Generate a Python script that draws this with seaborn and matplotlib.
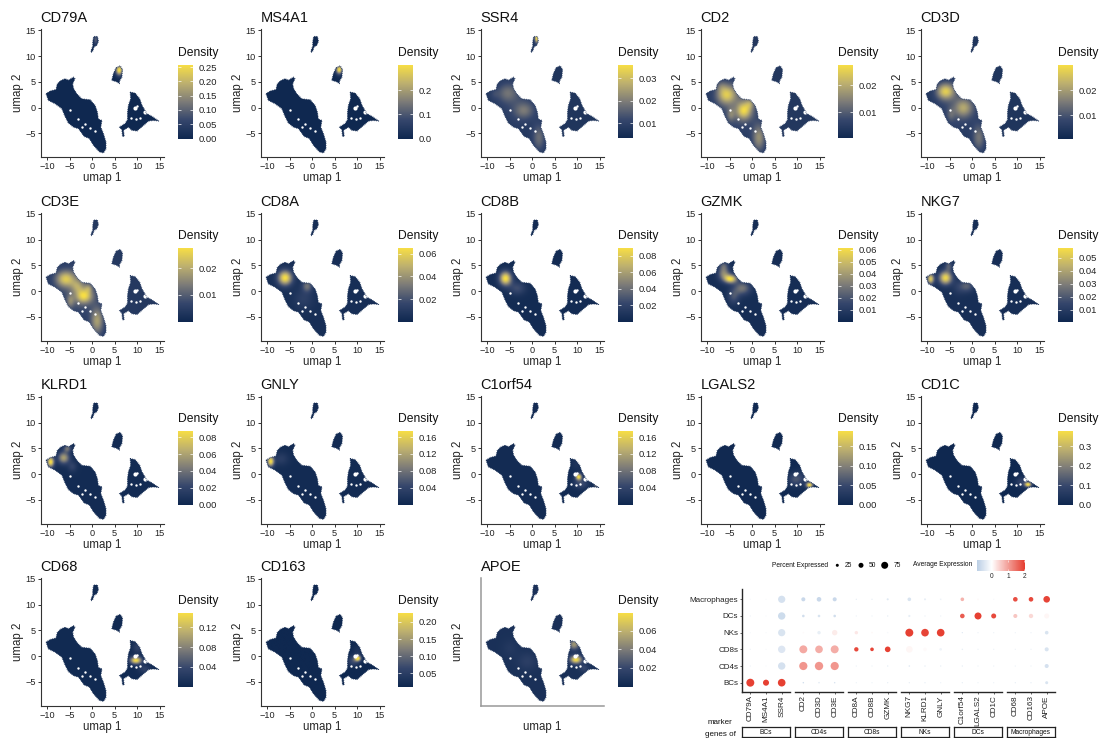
import numpy as np
import pandas as pd
import matplotlib
matplotlib.use("Agg")
import matplotlib.pyplot as plt
from matplotlib.cm import ScalarMappable
from matplotlib.colors import LinearSegmentedColormap, Normalize
from matplotlib.patches import PathPatch
from matplotlib.path import Path
import seaborn as sns

W, H = 1101, 738

# outlines of the umap clusters
body = [(-10.2, 2.7), (-9.3, 3.2), (-8.0, 3.5), (-7.7, 4.6), (-7.0, 5.2), (-6.0, 5.6), (-5.25, 5.3), (-4.1, 5.9),
        (-3.8, 5.6), (-4.3, 4.6), (-4.1, 3.7), (-3.4, 2.7), (-2.3, 1.7), (-0.4, 1.5), (0.7, 0.4), (1.2, -0.9),
        (1.4, -2.2), (2.2, -2.5), (1.95, -3.8), (2.55, -5.1), (3.1, -6.7), (3.1, -8.0), (2.55, -8.8), (1.65, -8.6),
        (0.3, -7.3), (-0.6, -6.0), (-1.75, -5.6), (-3.0, -4.1), (-4.1, -3.8), (-5.25, -3.0), (-6.0, -1.7),
        (-6.7, -0.2), (-8.2, 0.75), (-9.7, 1.4)]
top_island = [(0.47, 13.8), (1.2, 13.8), (1.43, 12.9), (1.06, 12.1), (0.47, 11.8), (0.17, 11.0), (-0.2, 10.7),
              (-0.2, 11.1), (0.17, 11.9), (0.17, 12.7), (0.32, 13.6)]
mid_island = [(5.37, 7.75), (6.26, 8.1), (6.78, 7.4), (6.63, 5.9), (6.1, 5.15), (6.1, 4.65), (5.5, 5.0), (4.4, 5.3),
              (4.77, 6.6)]
right_cluster = [(8.5, 3.0), (9.6, 2.8), (10.6, 1.7), (11.1, 0.44), (12.2, -1.2), (13.3, -1.7), (14.8, -2.6),
                 (13.7, -2.5), (12.6, -2.6), (11.45, -3.45), (10.0, -4.55), (8.86, -4.4), (8.1, -3.8), (7.0, -4.4),
                 (7.15, -5.6), (6.8, -5.6), (6.63, -4.3), (6.1, -3.8), (7.37, -3.1), (7.9, -2.35), (7.9, -0.86),
                 (8.1, 0.44), (8.6, 1.7)]
big_holes_x = [9.45, 11.8]
big_holes_y = [0.0, -0.9]
small_holes_x = [10.1, 8.6, 9.8, 10.7, -4.9, -1.5, -0.4, 0.7, 1.8, -3.2, -2.3]
small_holes_y = [0.25, -2.0, -2.2, -2.0, -0.4, -3.1, -3.9, -4.5, -2.0, -2.3, -3.8]

genes = ["CD79A", "MS4A1", "SSR4", "CD2", "CD3D",
         "CD3E", "CD8A", "CD8B", "GZMK", "NKG7",
         "KLRD1", "GNLY", "C1orf54", "LGALS2", "CD1C",
         "CD68", "CD163", "APOE"]

# colour bar limits and tick labels
cbar_range = [(0, .257), (0, .306), (.0033, .0358), (.0004, .0274), (.0008, .03),
              (0, .0277), (.0004, .065), (0, .0897), (0, .0615), (.0008, .0577),
              (0, .0875), (0, .1745), (0, .1745), (0, .19), (0, .38),
              (0, .149), (.012, .226), (0, .079)]
cbar_ticks = [["0.00", "0.05", "0.10", "0.15", "0.20", "0.25"], ["0.0", "0.1", "0.2"], ["0.01", "0.02", "0.03"],
              ["0.01", "0.02"], ["0.01", "0.02"],
              ["0.01", "0.02"], ["0.02", "0.04", "0.06"], ["0.02", "0.04", "0.06", "0.08"],
              ["0.01", "0.02", "0.03", "0.04", "0.05", "0.06"], ["0.01", "0.02", "0.03", "0.04", "0.05"],
              ["0.00", "0.02", "0.04", "0.06", "0.08"], ["0.04", "0.08", "0.12", "0.16"],
              ["0.04", "0.08", "0.12", "0.16"], ["0.00", "0.05", "0.10", "0.15"], ["0.0", "0.1", "0.2", "0.3"],
              ["0.04", "0.08", "0.12"], ["0.05", "0.10", "0.15", "0.20"], ["0.02", "0.04", "0.06"]]

# background density and the visible peaks: x, y, height, spread x, spread y
base = [.002, .002, .007, .004, .004,
        .004, .004, .003, .003, .004,
        .003, .005, .005, .003, .002,
        .003, .012, .006]
peaks = [
    [(5.9, 7.1, .255, .55, .7), (0.7, 13.0, .09, .35, .7)],
    [(5.9, 7.2, .30, .5, .6)],
    [(0.9, 13.25, .028, .3, .6), (-3.0, 0.5, .004, 3.5, 3.5), (-5.6, 2.7, .009, 1.6, 1.3), (-1.9, -0.7, .009, 1.5, 1.1),
     (1.4, -6.0, .010, 1.0, 1.8), (-8.5, 2.5, .003, .7, .7)],
    [(-3.0, 0.0, .005, 3.5, 3.5), (-5.8, 2.4, .018, 1.5, 1.3), (-1.9, -0.7, .018, 1.2, 1.2), (1.4, -6.0, .012, 1.0, 1.8),
     (-7.0, 4.0, .004, .8, .8), (-4.8, -1.5, .007, .6, .9), (-0.6, 0.6, .007, .7, .7)],
    [(-3.0, 0.0, .005, 3.5, 3.5), (-6.0, 3.0, .021, 1.4, 1.1), (-2.0, -0.2, .013, 1.4, 1.2), (1.4, -6.0, .010, 1.0, 1.8),
     (-4.8, -1.5, .005, .6, .9)],
    [(-3.0, 0.0, .005, 3.5, 3.5), (-6.0, 2.4, .018, 1.5, 1.1), (-1.9, -0.9, .019, 1.3, 1.0), (-4.9, -1.9, .008, .6, .9),
     (1.0, -5.8, .014, 1.0, 1.8), (-3.4, 1.0, .009, 1.0, .9), (-0.9, 0.6, .007, .6, .6)],
    [(-6.1, 2.6, .061, 1.1, 1.0), (-1.2, 1.0, .025, .8, .8), (-2.0, -1.5, .009, 1.5, 1.4)],
    [(-6.0, 2.5, .087, .95, .95), (-3.4, 0.6, .022, 1.3, .9)],
    [(-4.9, 2.4, .056, 1.0, .6), (-6.4, 3.5, .030, .9, .9), (-2.3, 0.6, .026, 1.3, .9), (-4.2, -1.0, .016, .9, 1.0),
     (-6.4, 5.0, .016, .7, .6)],
    [(-9.3, 2.4, .047, .55, .7), (-6.0, 2.6, .051, 1.0, .9), (-5.3, 4.9, .017, .6, .7), (-1.2, 1.0, .017, 1.0, .8),
     (-3.0, 0.8, .008, 1.0, 1.0)],
    [(-9.3, 2.4, .085, .55, .7), (-6.4, 3.2, .055, .9, .8), (-5.6, 5.0, .036, .6, .5), (-4.5, 1.5, .016, .7, .7)],
    [(-9.3, 2.5, .165, .55, .7), (-7.0, 3.0, .026, 1.2, .9)],
    [(10.2, -0.5, .165, .5, .45), (14.0, -2.2, .10, .25, .2), (10.7, -1.8, .045, 1.1, .7), (9.7, 2.0, .012, .8, .8)],
    [(12.6, -2.1, .185, .55, .4), (9.2, -1.0, .047, 1.0, .9), (10.7, -0.8, .03, 1.0, 1.0)],
    [(12.3, -2.0, .37, .55, .35), (10.8, -1.5, .08, .9, .7)],
    [(9.6, -0.8, .145, .9, .5), (10.0, 1.7, .028, .8, .8), (11.5, -2.5, .028, .9, .6)],
    [(10.0, -0.4, .21, .5, .4), (9.0, -0.9, .06, .9, .7), (10.0, 1.0, .02, .8, .8)],
    [(9.6, -0.65, .073, .9, .55), (9.2, 2.3, .044, .8, .7), (11.4, -2.3, .014, .7, .5), (-1.2, -1.0, .009, 1.5, 1.2),
     (-5.0, 1.5, .005, 1.2, 1.2)],
]

# dot plot
cell_types = ["Macrophages", "DCs", "NKs", "CD8s", "CD4s", "BCs"]
groups = ["BCs", "CD4s", "CD8s", "NKs", "DCs", "Macrophages"]
markers = [["CD79A", "MS4A1", "SSR4"], ["CD2", "CD3D", "CD3E"], ["CD8A", "CD8B", "GZMK"],
           ["NKG7", "KLRD1", "GNLY"], ["C1orf54", "LGALS2", "CD1C"], ["CD68", "CD163", "APOE"]]
pct_expressed = [
    [3, 3, 78, 38, 45, 38, 4, 4, 13, 33, 13, 8, 33, 10, 4, 45, 45, 70],
    [3, 3, 80, 20, 20, 20, 4, 4, 5, 15, 5, 4, 45, 75, 50, 38, 42, 50],
    [3, 3, 78, 6, 30, 55, 30, 6, 6, 87, 83, 83, 4, 4, 4, 4, 4, 33],
    [3, 3, 80, 87, 83, 87, 42, 33, 58, 70, 30, 20, 5, 4, 4, 4, 4, 38],
    [3, 3, 80, 90, 92, 90, 4, 4, 5, 7, 5, 4, 5, 4, 4, 4, 4, 38],
    [87, 63, 83, 6, 6, 6, 4, 4, 4, 4, 4, 4, 4, 4, 4, 4, 4, 25],
]
avg_expression = [
    [-.1, -.1, -.55, -.7, -.7, -.7, -.3, -.3, -.4, -.5, -.3, -.2, .8, .05, -.1, 1.85, 1.9, 1.95],
    [-.2, -.1, -.65, -.6, -.5, -.6, -.2, -.2, -.3, -.3, -.2, -.2, 1.7, 2.0, 1.9, .6, .4, .1],
    [-.1, -.1, -.5, .05, -.3, .2, .25, .1, -.1, 2.0, 1.95, 2.0, -.4, -.2, -.2, -.2, -.2, -.5],
    [-.2, -.1, -.45, .9, .85, .85, 1.9, 1.95, 2.0, .1, .05, -.2, -.3, -.2, -.2, -.2, -.2, -.5],
    [-.2, -.1, -.55, 1.1, 1.1, 1.1, -.2, -.2, -.3, -.4, -.3, -.3, -.3, -.2, -.2, -.2, -.2, -.55],
    [2.0, 2.0, 2.0, -.6, -.4, -.5, -.2, -.2, -.3, -.3, -.3, -.2, -.3, -.2, -.2, -.3, -.3, -.5],
]
legend_pct = [25, 50, 75]

sns.set_theme(style="ticks")
plt.rcParams["font.family"] = ["Liberation Sans", "DejaVu Sans"]
plt.rcParams["text.color"] = "#111111"

fig = plt.figure(figsize=(W / 100, H / 100), dpi=100)
density_cmap = LinearSegmentedColormap.from_list(
    "density", ["#0f2850", "#35466c", "#7c7b78", "#bcaf6f", "#f7de45"])


def px_axes(left, top, width, height):
    return fig.add_axes([left / W, 1 - (top + height) / H, width / W, height / H])


def dot_area(pct):
    return (0.72 * (1 + 0.08 * pct)) ** 2


# one clip path for all the clusters
shapes = [body, top_island, mid_island, right_cluster]
verts, codes = [], []
for shape in shapes:
    verts += shape + [shape[0]]
    codes += [Path.MOVETO] + [Path.LINETO] * (len(shape) - 1) + [Path.CLOSEPOLY]
umap_path = Path(verts, codes)

gx, gy = np.meshgrid(np.linspace(-11.4, 16, 330), np.linspace(-9.66, 15.2, 300))
row_tops = [29.3, 212.8, 395.8, 577.8]
cbar_tops = [65, 248, 431, 613]

for i, gene in enumerate(genes):
    row, col = divmod(i, 5)
    left = 40.7 + 220 * col
    ax = px_axes(left, row_tops[row], 123.3, 128)
    density = np.full(gx.shape, base[i], dtype=float)
    for px, py, height, sx, sy in peaks[i]:
        density += height * np.exp(-((gx - px) / sx) ** 2 / 2 - ((gy - py) / sy) ** 2 / 2)
    vmin, vmax = cbar_range[i]
    im = ax.imshow(density, extent=(-11.4, 16, -9.66, 15.2), origin="lower", aspect="auto",
                   cmap=density_cmap, vmin=vmin, vmax=vmax, interpolation="bilinear")
    patch = PathPatch(umap_path, facecolor="none", edgecolor="none", transform=ax.transData)
    ax.add_patch(patch)
    im.set_clip_path(patch)
    # fine dotted stroke in the background colour roughens the cluster edges
    edge_color = density_cmap((base[i] - vmin) / (vmax - vmin))
    for shape in shapes:
        ax.plot(*zip(*(shape + shape[:1])), color=edge_color, lw=0.8, ls=(0, (0.6, 1.0)))
    sns.scatterplot(x=big_holes_x, y=big_holes_y, color="white", s=9, linewidth=0, ax=ax, legend=False)
    sns.scatterplot(x=small_holes_x, y=small_holes_y, color="white", s=3, linewidth=0, ax=ax, legend=False)
    ax.set_xlim(-11.4, 16)
    ax.set_ylim(-9.66, 15.2)
    ax.set_title(gene, loc="left", fontsize=10.5, pad=5)
    ax.set_xlabel("umap 1", fontsize=8.3, va="center")
    ax.set_ylabel("umap 2", fontsize=8.3, va="center")
    ax.xaxis.set_label_coords(0.5, -0.165)
    ax.yaxis.set_label_coords(-0.184, 0.5)
    sns.despine(ax=ax)
    if gene == "APOE":
        ax.set_xticks([])
        ax.set_yticks([])
        ax.spines[["left", "bottom"]].set_color("#999999")
        ax.spines[["left", "bottom"]].set_linewidth(1.1)
    else:
        ax.set_xticks([-10, -5, 0, 5, 10, 15])
        ax.set_yticks([-5, 0, 5, 10, 15])
        ax.tick_params(labelsize=6.6, length=2.2, width=0.7, pad=1.5, color="#333333", labelcolor="#222222")
        ax.spines[["left", "bottom"]].set_color("#333333")
        ax.spines[["left", "bottom"]].set_linewidth(0.8)

    # colour bar with ggplot style ticks
    cax = px_axes(178 + 220 * col, cbar_tops[row], 15, 73.5)
    cb = fig.colorbar(im, cax=cax)
    values = [float(t) for t in cbar_ticks[i]]
    cb.set_ticks(values, labels=cbar_ticks[i])
    cb.outline.set_visible(False)
    cax.tick_params(length=0, labelsize=6.8, pad=4.2, labelcolor="#222222")
    cax.hlines(values, 0, 0.2, color="white", lw=0.5)
    cax.hlines(values, 0.8, 1, color="white", lw=0.5)
    fig.text((178 + 220 * col) / W, 1 - (cbar_tops[row] - 12) / H, "Density", fontsize=8.7, va="center")

# dot plot, one facet per marker group
long_rows = []
flat_markers = [m for group in markers for m in group]
for r, cell in enumerate(cell_types):
    for c, gene in enumerate(flat_markers):
        long_rows.append({"cell": cell, "gene": gene, "pct": pct_expressed[r][c], "avg": avg_expression[r][c]})
dots = pd.DataFrame(long_rows)
size_lookup = {p: dot_area(p) for p in dots["pct"].unique()}
expr_cmap = LinearSegmentedColormap.from_list(
    "expr", [(0, "#b9cde4"), (0.309, "#ffffff"), (1, "#e53a2c")])
expr_norm = Normalize(-0.92, 2.06)

for k, group in enumerate(groups):
    left = 741.7 + 53 * k
    ax = px_axes(left, 589.3, 48.3, 102.4)
    sub = dots[dots["gene"].isin(markers[k])]
    sns.scatterplot(data=sub, x="gene", y="cell", hue="avg", size="pct", palette=expr_cmap, hue_norm=expr_norm,
                    sizes=size_lookup, linewidth=0, legend=False, ax=ax)
    ax.set_xlim(-0.55, 2.53)
    ax.set_ylim(5.54, -0.6)
    ax.set_xlabel("")
    ax.set_ylabel("")
    ax.tick_params(axis="x", rotation=90, labelsize=5.9, length=1.5, width=0.5, pad=1, labelcolor="#222222")
    ax.tick_params(axis="y", labelsize=5.8, length=1.5, width=0.5, pad=1, labelcolor="#222222")
    sns.despine(ax=ax, left=k > 0)
    ax.spines["bottom"].set_linewidth(1.0)
    ax.spines["left"].set_linewidth(1.0)
    ax.patch.set_alpha(0)
    if k > 0:
        ax.tick_params(axis="y", left=False, labelleft=False)

    strip = px_axes(left, 727, 48.3, 9.9)
    strip.set_xticks([])
    strip.set_yticks([])
    for side in strip.spines.values():
        side.set_linewidth(0.9)
        side.set_color("#222222")
    strip.text(0.5, 0.47, group, ha="center", va="center", fontsize=4.8, transform=strip.transAxes)

# dot plot legends, placed in pixel coordinates
over = fig.add_axes([0, 0, 1, 1], zorder=-1)
over.set_xlim(0, W)
over.set_ylim(H, 0)
over.axis("off")
over.text(772.3, 565.3, "Percent Expressed", fontsize=4.8, va="center")
sns.scatterplot(x=[837.3, 861, 884.7], y=[565.3] * 3, size=legend_pct, sizes={p: dot_area(p) for p in legend_pct},
                color="black", linewidth=0, legend=False, ax=over)
over.set_xlim(0, W)
over.set_ylim(H, 0)
for x_txt, label in zip([845, 869, 893.3], legend_pct):
    over.text(x_txt, 565.3, str(label), fontsize=4.8, va="center")
over.text(913.3, 564.7, "Average Expression", fontsize=4.8, va="center")
over.text(720, 722.7, "marker", fontsize=5.8, ha="center", va="center")
over.text(720, 734.3, "genes of", fontsize=5.8, ha="center", va="center")

leg = px_axes(976.7, 560, 48.7, 10.7)
leg_bar = fig.colorbar(ScalarMappable(norm=expr_norm, cmap=expr_cmap), cax=leg, orientation="horizontal")
leg_bar.set_ticks([0, 1, 2], labels=["0", "1", "2"])
leg_bar.outline.set_visible(False)
leg.tick_params(length=0, labelsize=4.8, pad=1.8)
leg.vlines([0, 1, 2], 0, 0.2, color="white", lw=0.4)
leg.vlines([0, 1, 2], 0.8, 1, color="white", lw=0.4)

fig.savefig("out.png", dpi=100, facecolor="white")
